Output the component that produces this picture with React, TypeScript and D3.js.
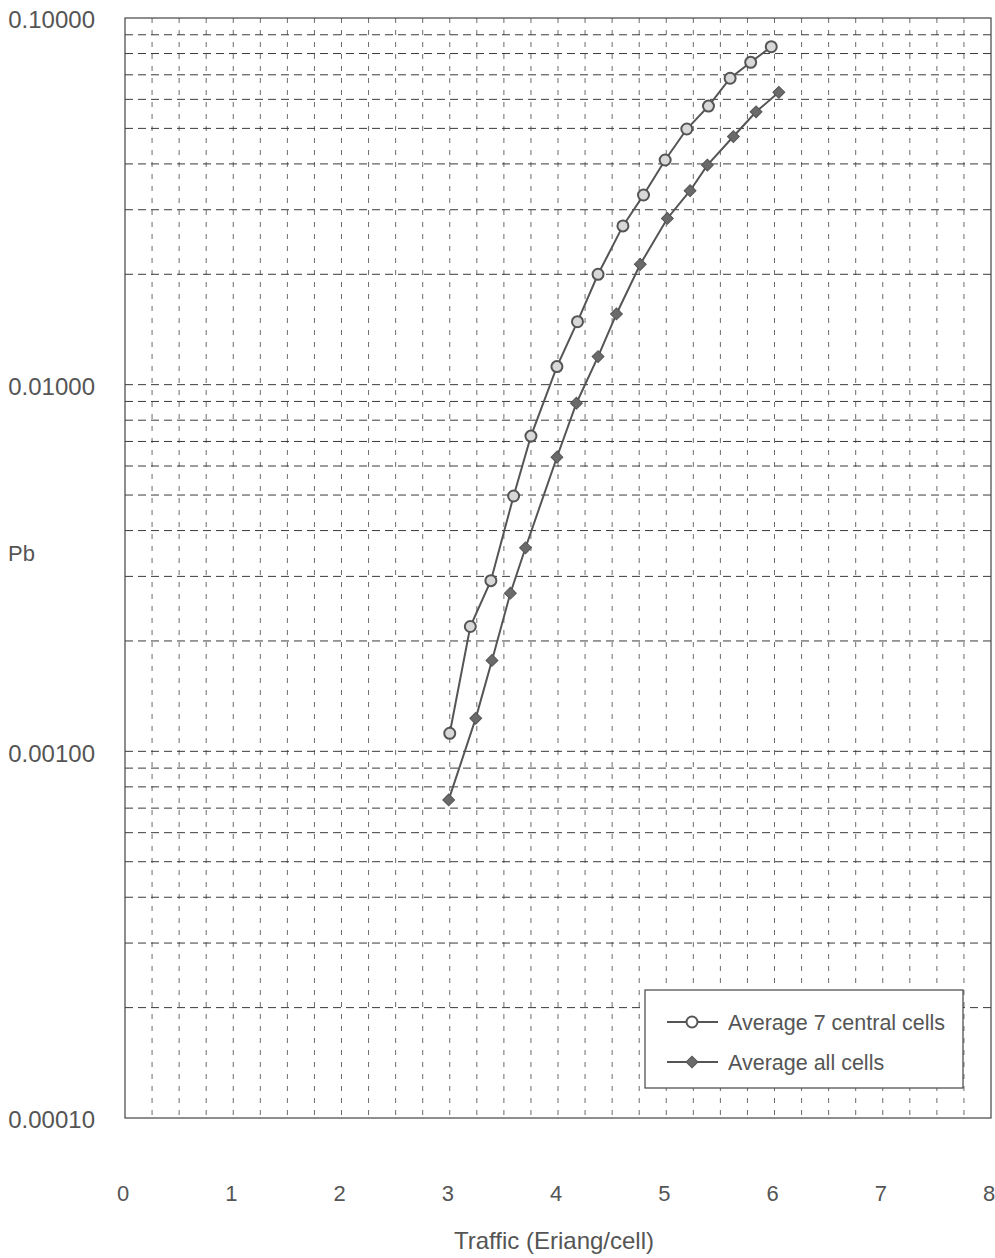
import React from "react";
import * as d3 from "d3";

// Traffic (Erlang/cell) vs blocking probability Pb
const centralX = [3.0, 3.19, 3.38, 3.59, 3.75, 3.99, 4.18, 4.37, 4.6, 4.79, 4.99, 5.19, 5.39, 5.59, 5.78, 5.97];
const centralPb = [0.00112, 0.00219, 0.00292, 0.00497, 0.00724, 0.0112, 0.01485, 0.02, 0.0271, 0.0329, 0.041, 0.0498, 0.0575, 0.0685, 0.0757, 0.0835];

const allX = [2.99, 3.24, 3.39, 3.56, 3.7, 3.99, 4.17, 4.37, 4.54, 4.76, 5.01, 5.22, 5.38, 5.62, 5.83, 6.04];
const allPb = [0.000737, 0.00123, 0.00177, 0.0027, 0.00359, 0.00634, 0.0089, 0.01193, 0.01559, 0.0213, 0.0284, 0.0338, 0.0397, 0.0475, 0.0555, 0.0627];

const xTicks = [0, 1, 2, 3, 4, 5, 6, 7, 8];
const yTicks = [0.1, 0.01, 0.001, 0.0001];
const yTickLabels = ["0.10000", "0.01000", "0.00100", "0.00010"];

const seriesNames = ["Average 7 central cells", "Average all cells"];

const W = 995;
const H = 1258;
const plot = { left: 125, right: 991, top: 18, bottom: 1118 };

const FONT = "'Liberation Sans', Arial, sans-serif";
const TEXT = "#555";
const GRID = "#3a3a3a";
const LINE = "#555";

export default function App() {
  const x = d3.scaleLinear().domain([0, 8]).range([plot.left, plot.right]);
  const y = d3.scaleLog().domain([0.0001, 0.1]).range([plot.bottom, plot.top]);

  // minor log grid: 2..9 of each decade plus the decade lines inside the frame
  const hGrid: number[] = [];
  [0.0001, 0.001, 0.01].forEach((d) => {
    for (let k = 2; k <= 9; k++) hGrid.push(d * k);
    if (d > 0.0001) hGrid.push(d);
  });
  const vGrid = d3.range(0.25, 8, 0.25);

  const line = d3
    .line<[number, number]>()
    .x((d) => x(d[0]))
    .y((d) => y(d[1]));

  const central: [number, number][] = centralX.map((v, i) => [v, centralPb[i]]);
  const all: [number, number][] = allX.map((v, i) => [v, allPb[i]]);

  // rotated square marker
  const diamond = d3.symbol().type(d3.symbolSquare).size(70)();

  const legend = { x: 645, y: 990, w: 318, h: 98 };

  return (
    <svg
      width={W}
      height={H}
      style={{ position: "absolute", left: 0, top: 0, background: "#fff", display: "block" }}
    >
      <rect x={0} y={0} width={W} height={H} fill="#fff" />
      {/* grid */}
      <g stroke={GRID} strokeWidth={1} fill="none">
        {hGrid.map((v) => (
          <line
            key={"h" + v}
            x1={plot.left}
            x2={plot.right}
            y1={y(v)}
            y2={y(v)}
            strokeDasharray="8,5"
          />
        ))}
        {vGrid.map((v) => (
          <line
            key={"v" + v}
            x1={x(v)}
            x2={x(v)}
            y1={plot.top}
            y2={plot.bottom}
            strokeDasharray="5,7"
            opacity={0.75}
          />
        ))}
      </g>
      {/* frame */}
      <rect
        x={plot.left}
        y={plot.top}
        width={plot.right - plot.left}
        height={plot.bottom - plot.top}
        fill="none"
        stroke="#444"
        strokeWidth={1.2}
      />

      {/* series */}
      <path d={line(all) ?? ""} fill="none" stroke={LINE} strokeWidth={2} />
      <path d={line(central) ?? ""} fill="none" stroke={LINE} strokeWidth={2} />
      {all.map((d, i) => (
        <path
          key={"d" + i}
          d={diamond ?? ""}
          transform={`translate(${x(d[0])},${y(d[1])}) rotate(45)`}
          fill="#6a6a6a"
          stroke="#555"
          strokeWidth={1}
        />
      ))}
      {central.map((d, i) => (
        <circle
          key={"c" + i}
          cx={x(d[0])}
          cy={y(d[1])}
          r={5.5}
          fill="#d8d8d8"
          stroke="#555"
          strokeWidth={2}
        />
      ))}

      {/* legend */}
      <rect
        x={legend.x}
        y={legend.y}
        width={legend.w}
        height={legend.h}
        fill="#fff"
        stroke="#444"
        strokeWidth={1.2}
      />
      <g>
        <line x1={667} x2={718} y1={1022} y2={1022} stroke={LINE} strokeWidth={2} />
        <circle cx={692} cy={1022} r={5.5} fill="#fff" stroke="#555" strokeWidth={2} />
        <text x={728} y={1022} dy="0.35em" fontFamily={FONT} fontSize={21.5} fill={TEXT}>
          {seriesNames[0]}
        </text>
        <line x1={667} x2={718} y1={1062} y2={1062} stroke={LINE} strokeWidth={2} />
        <path d={diamond ?? ""} transform="translate(692,1062) rotate(45)" fill="#6a6a6a" stroke="#555" />
        <text x={728} y={1062} dy="0.35em" fontFamily={FONT} fontSize={21.5} fill={TEXT}>
          {seriesNames[1]}
        </text>
      </g>

      {/* y axis labels */}
      {yTicks.map((v, i) => (
        <text
          key={"yt" + v}
          x={95}
          y={y(v) + 2}
          dy="0.35em"
          textAnchor="end"
          fontFamily={FONT}
          fontSize={24}
          fill={TEXT}
        >
          {yTickLabels[i]}
        </text>
      ))}
      <text x={8} y={553} dy="0.35em" fontFamily={FONT} fontSize={22} fill={TEXT}>
        Pb
      </text>

      {/* x axis labels */}
      {xTicks.map((v) => (
        <text
          key={"xt" + v}
          x={x(v) - 2}
          y={1193}
          dy="0.35em"
          textAnchor="middle"
          fontFamily={FONT}
          fontSize={22}
          fill={TEXT}
        >
          {v}
        </text>
      ))}
      <text
        x={554}
        y={1241}
        dy="0.35em"
        textAnchor="middle"
        fontFamily={FONT}
        fontSize={24}
        fill={TEXT}
      >
        Traffic (Eriang/cell)
      </text>
    </svg>
  );
}
